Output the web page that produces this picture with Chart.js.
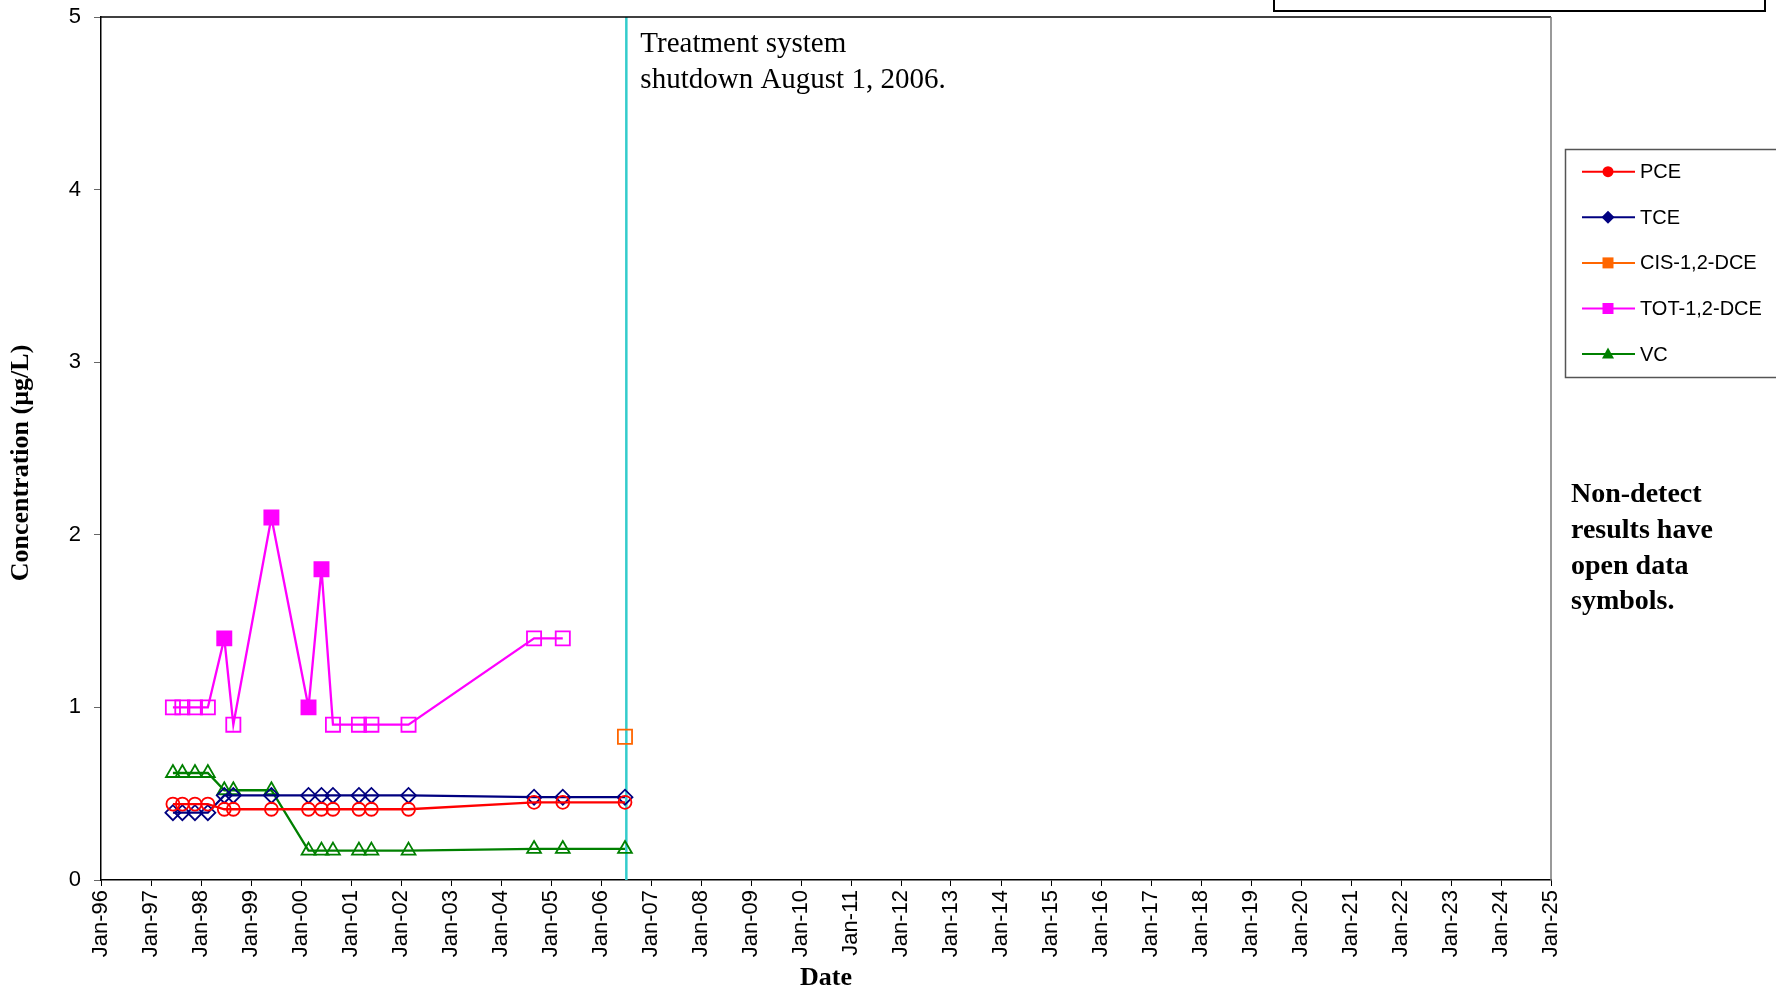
<!DOCTYPE html>
<html>
<head>
<meta charset="utf-8">
<script src="https://cdn.jsdelivr.net/npm/chart.js@4.4.0/dist/chart.umd.min.js"></script>
<style>
  html, body { margin: 0; padding: 0; background: #fff; }
  #wrap { width: 1776px; height: 992px; position: relative; }
</style>
</head>
<body>
<div id="wrap"><canvas id="grafico"></canvas></div>
<script>
// datas de amostragem (todas as séries usam o mesmo calendário)
const sampleDates = [
    "1997-06-10", "1997-08-18", "1997-11-18", "1998-02-20",
    "1998-06-20", "1998-08-25", "1999-05-30", "2000-02-25",
    "2000-05-30", "2000-08-22", "2001-02-28", "2001-05-30",
    "2002-02-25", "2004-08-30", "2005-03-28", "2006-06-25"
];

const pce = [0.44, 0.44, 0.44, 0.44, 0.41, 0.41, 0.41, 0.41, 0.41, 0.41, 0.41, 0.41, 0.41, 0.45, 0.45, 0.45];
const tce = [0.39, 0.39, 0.39, 0.39, 0.49, 0.49, 0.49, 0.49, 0.49, 0.49, 0.49, 0.49, 0.49, 0.48, 0.48, 0.48];
const cisDce = [null, null, null, null, null, null, null, null, null, null, null, null, null, null, null, 0.83];
const totDce = [1.0, 1.0, 1.0, 1.0, 1.4, 0.9, 2.1, 1.0, 1.8, 0.9, 0.9, 0.9, 0.9, 1.4, 1.4, null];
const vc = [0.62, 0.62, 0.62, 0.62, 0.52, 0.52, 0.52, 0.17, 0.17, 0.17, 0.17, 0.17, 0.17, 0.18, 0.18, 0.18];

// 1 = detectado (símbolo cheio), 0 = não detectado (símbolo vazio)
const totDetect = [0, 0, 0, 0, 1, 0, 1, 1, 1, 0, 0, 0, 0, 0, 0, 0];

const shutdownDate = "2006-07-05";
const xMinYear = 1996;
const xMaxYear = 2025;
const yTicksMin = 0;
const yTicksMax = 5;

const nomes = ["PCE", "TCE", "CIS-1,2-DCE", "TOT-1,2-DCE", "VC"];
const cores = ["#FF0000", "#000080", "#FF6600", "#FF00FF", "#008000"];
const marcadores = ["circle", "rectRot", "rect", "rect", "triangle"];

function toYear(s) {
    const [a, m, d] = s.split("-").map(Number);
    const ini = Date.UTC(a, 0, 1);
    const fim = Date.UTC(a + 1, 0, 1);
    return a + (Date.UTC(a, m - 1, d) - ini) / (fim - ini);
}

function serie(idx, valores, raio, detectado) {
    const cor = cores[idx];
    return {
        label: nomes[idx],
        data: sampleDates
            .map((d, i) => ({ x: toYear(d), y: valores[i], det: detectado ? detectado[i] : 0 }))
            .filter(p => p.y !== null),
        borderColor: cor,
        backgroundColor: cor,
        borderWidth: 2.3,
        pointStyle: marcadores[idx],
        pointRadius: raio,
        pointHoverRadius: raio,
        pointBorderWidth: 1.8,
        pointBorderColor: cor,
        pointBackgroundColor: c => (c.raw && c.raw.det) ? cor : "rgba(0,0,0,0)",
        tension: 0
    };
}

const fonteSerif = '"Liberation Serif", "Times New Roman", serif';
const fonteSans = '"Liberation Sans", Arial, sans-serif';

function semMargens(s) {
    s.paddingTop = 0;
    s.paddingBottom = 0;
    s.paddingLeft = 0;
    s.paddingRight = 0;
}

function desenharMarcador(ctx, tipo, x, y, cor) {
    ctx.fillStyle = cor;
    ctx.beginPath();
    if (tipo === "circle") {
        ctx.arc(x, y, 5.5, 0, Math.PI * 2);
    } else if (tipo === "rectRot") {
        ctx.moveTo(x, y - 6.5); ctx.lineTo(x + 6.5, y); ctx.lineTo(x, y + 6.5); ctx.lineTo(x - 6.5, y);
        ctx.closePath();
    } else if (tipo === "rect") {
        ctx.rect(x - 5.5, y - 5.5, 11, 11);
    } else {
        ctx.moveTo(x, y - 6.5); ctx.lineTo(x + 6, y + 4.5); ctx.lineTo(x - 6, y + 4.5);
        ctx.closePath();
    }
    ctx.fill();
}

const extras = {
    id: "extras",
    afterDraw(chart) {
        const ctx = chart.ctx;
        const a = chart.chartArea;
        ctx.save();

        // bordas superior e direita da área do gráfico
        ctx.lineWidth = 1.5;
        ctx.strokeStyle = "#000";
        ctx.beginPath(); ctx.moveTo(a.left, a.top); ctx.lineTo(a.right, a.top); ctx.stroke();
        ctx.strokeStyle = "#777";
        ctx.beginPath(); ctx.moveTo(a.right, a.top); ctx.lineTo(a.right, a.bottom); ctx.stroke();

        // caixa cortada no topo
        ctx.strokeStyle = "#000";
        ctx.lineWidth = 2;
        ctx.strokeRect(1274, -6, 491, 17);

        // título do eixo y
        ctx.save();
        ctx.translate(21.5, 463);
        ctx.rotate(-Math.PI / 2);
        ctx.fillStyle = "#000";
        ctx.font = "bold 26px " + fonteSerif;
        ctx.textAlign = "center";
        ctx.textBaseline = "middle";
        ctx.fillText("Concentration (\u00b5g/L)", 0, 0);
        ctx.restore();

        // anotação do desligamento
        const xs = chart.scales.x.getPixelForValue(toYear(shutdownDate));
        ctx.fillStyle = "#000";
        ctx.font = "29px " + fonteSerif;
        ctx.textAlign = "left";
        ctx.textBaseline = "alphabetic";
        ctx.fillText("Treatment system", xs + 14, 52);
        ctx.fillText("shutdown August 1, 2006.", xs + 14, 87.5);

        // nota sobre não detectados
        ctx.font = "bold 28px " + fonteSerif;
        ["Non-detect", "results have", "open data", "symbols."].forEach((t, i) => {
            ctx.fillText(t, 1571, 502 + i * 35.8);
        });

        // legenda
        ctx.strokeStyle = "#555";
        ctx.lineWidth = 1.5;
        ctx.strokeRect(1565.5, 149.5, 260, 228);
        ctx.font = "20px " + fonteSans;
        ctx.textBaseline = "middle";
        nomes.forEach((n, i) => {
            const y = 171.7 + i * 45.6;
            ctx.strokeStyle = cores[i];
            ctx.lineWidth = 2;
            ctx.beginPath(); ctx.moveTo(1582, y); ctx.lineTo(1635, y); ctx.stroke();
            desenharMarcador(ctx, marcadores[i], 1608, y, cores[i]);
            ctx.fillStyle = "#000";
            ctx.fillText(n, 1640, y + 1);
        });

        ctx.restore();
    }
};

const xShutdown = toYear(shutdownDate);

new Chart(document.getElementById("grafico"), {
    type: "line",
    data: {
        datasets: [
            serie(0, pce, 6.5),
            serie(1, tce, 7.5),
            serie(2, cisDce, 10),
            serie(3, totDce, 10, totDetect),
            serie(4, vc, 8),
            {
                label: "shutdown",
                data: [{ x: xShutdown, y: yTicksMin }, { x: xShutdown, y: yTicksMax }],
                borderColor: "#33CCCC",
                borderWidth: 2.5,
                pointRadius: 0,
                pointHoverRadius: 0
            }
        ]
    },
    options: {
        responsive: true,
        maintainAspectRatio: false,
        animation: false,
        events: [],
        layout: { padding: { top: 17, right: 225, left: 0, bottom: 0 } },
        plugins: {
            legend: { display: false },
            tooltip: { enabled: false }
        },
        scales: {
            x: {
                type: "linear",
                min: xMinYear,
                max: xMaxYear,
                afterFit: s => { s.height = 112; semMargens(s); },
                ticks: {
                    stepSize: 1,
                    autoSkip: false,
                    minRotation: 90,
                    maxRotation: 90,
                    padding: 4,
                    color: "#000",
                    font: { family: fonteSans, size: 22 },
                    callback: v => "Jan-" + String(v).slice(2)
                },
                grid: { drawOnChartArea: false, drawTicks: true, tickLength: 6, color: "#000", lineWidth: 1 },
                border: { color: "#000", width: 1.5 },
                title: {
                    display: true,
                    text: "Date",
                    color: "#000",
                    font: { family: fonteSerif, size: 26, weight: "bold", lineHeight: 1 },
                    padding: { top: 0, bottom: 1 }
                }
            },
            y: {
                min: yTicksMin,
                max: yTicksMax,
                afterFit: s => { s.width = 101; semMargens(s); },
                ticks: {
                    stepSize: 1,
                    padding: 13,
                    color: "#000",
                    font: { family: fonteSans, size: 22 }
                },
                grid: { drawOnChartArea: false, drawTicks: true, tickLength: 7, color: "#666", lineWidth: 1 },
                border: { color: "#000", width: 1.5 }
            }
        }
    },
    plugins: [extras]
});
</script>
</body>
</html>
